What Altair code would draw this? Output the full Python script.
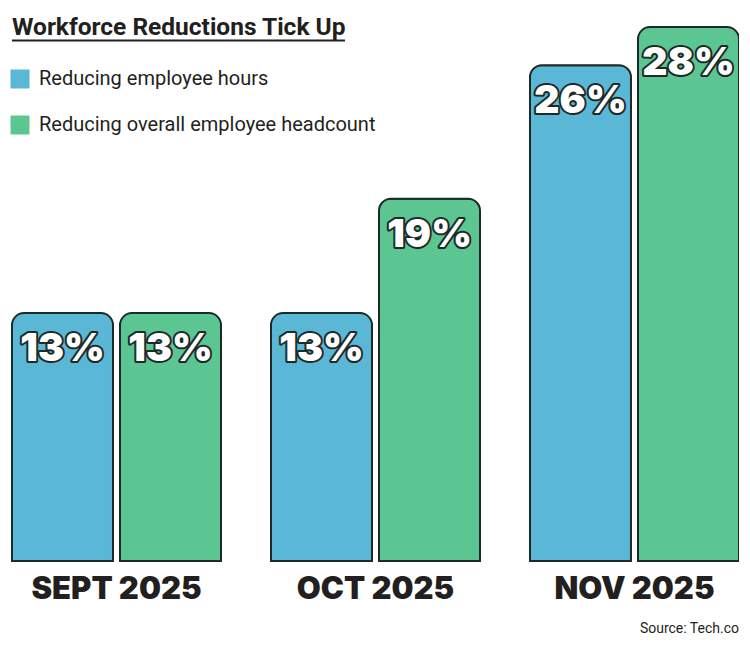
import altair as alt
import pandas as pd

# ---- data ----
months = ["SEPT 2025", "OCT 2025", "NOV 2025"]
series = ["Reducing employee hours", "Reducing overall employee headcount"]
hours = [13, 13, 26]
headcount = [13, 19, 28]
colors = ["#5AB8D6", "#5CC693"]
title_text = "Workforce Reductions Tick Up"
source_text = "Source: Tech.co"

rows = []
for m, h, c in zip(months, hours, headcount):
    rows.append({"Month": m, "Series": series[0], "Value": h, "Label": f"{h}%"})
    rows.append({"Month": m, "Series": series[1], "Value": c, "Label": f"{c}%"})
df = pd.DataFrame(rows)

DARK = "#1F2A28"
TXT = "#231F20"
NARROW = "Roboto, sans-serif"
HEAVY = "Inter, Lato, sans-serif"

x_enc = alt.X("Month:N", sort=months, title=None,
              scale=alt.Scale(paddingInner=0.193, paddingOuter=0),
              axis=alt.Axis(domain=False, ticks=False, labelAngle=0,
                            labelFont=HEAVY, labelFontSize=31, labelFontWeight=900,
                            labelColor=TXT, labelBaseline="alphabetic",
                            labelPadding=37, labelLimit=400))
xo_enc = alt.XOffset("Series:N", sort=series,
                     scale=alt.Scale(paddingInner=0.065, paddingOuter=0))
y_enc = alt.Y("Value:Q", axis=None, scale=alt.Scale(domain=[0, 29], nice=False))

base = alt.Chart(df)

bars = base.mark_bar(stroke=DARK, strokeWidth=2,
                     cornerRadiusTopLeft=12, cornerRadiusTopRight=12).encode(
    x=x_enc, xOffset=xo_enc, y=y_enc,
    color=alt.Color("Series:N", sort=series,
                    scale=alt.Scale(domain=series, range=colors),
                    legend=alt.Legend(title=None, orient="none", legendX=-2, legendY=61,
                                      symbolType="square", symbolSize=360,
                                      symbolStrokeWidth=0, symbolOpacity=1,
                                      labelFont=NARROW, labelFontSize=20,
                                      labelColor=TXT, labelOffset=9,
                                      rowPadding=26, labelLimit=500))
)

outline = base.mark_text(font=HEAVY, fontSize=39, fontWeight=900, baseline="middle",
                         dy=36, fill=DARK, stroke=DARK, strokeWidth=4,
                         strokeJoin="round").encode(
    x=x_enc, xOffset=xo_enc, y=y_enc, text="Label:N")
fill = base.mark_text(font=HEAVY, fontSize=39, fontWeight=900, baseline="middle",
                      dy=36, fill="white").encode(
    x=x_enc, xOffset=xo_enc, y=y_enc, text="Label:N")

title = alt.Chart(pd.DataFrame({"t": [title_text]})).mark_text(
    font=NARROW, fontSize=24.5, fontWeight="bold", align="left",
    baseline="alphabetic", color=TXT).encode(
    text="t:N", x=alt.value(0), y=alt.value(27))
underline = alt.Chart(pd.DataFrame({"t": [title_text]})).mark_rule(
    color=TXT, strokeWidth=2).encode(
    x=alt.value(0), x2=alt.value(333), y=alt.value(32.5))
source = alt.Chart(pd.DataFrame({"t": [source_text]})).mark_text(
    font=NARROW, fontSize=14, align="right", baseline="alphabetic",
    color=TXT).encode(text="t:N", x=alt.value(727), y=alt.value(625))

chart = alt.layer(bars, outline, fill, title, underline, source).properties(
    width=727, height=553,
    autosize=alt.AutoSizeParams(type="none"),
    padding={"left": 4, "top": 0, "right": 0, "bottom": 76},
    background="white",
).configure_view(stroke=None)

chart.save("out.html", embed_options={"renderer": "svg", "actions": False})
